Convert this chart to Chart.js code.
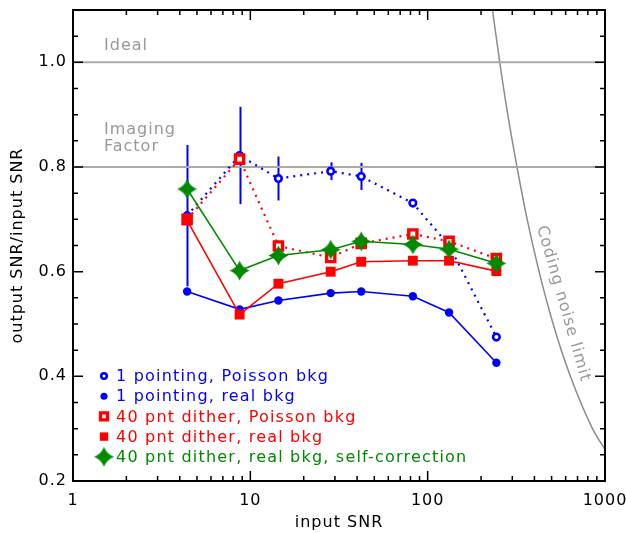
<!DOCTYPE html>
<html lang="en">
<head>
    <meta charset="UTF-8">
    <title>Output SNR vs input SNR</title>
    <script src="https://cdn.jsdelivr.net/npm/chart.js"></script>
    <style>
        body { margin: 0; background: #fff; }
        .snrchart { width: 626px; height: 533px; }
    </style>
</head>
<body>
    <div class="snrchart">
        <canvas id="snrChart" width="626" height="533"></canvas>
    </div>
    <script>
        // input SNR values of the simulations
        var inputSnr = [4.4, 8.7, 14.4, 28.4, 42.2, 82.5, 132, 244];

        // output SNR / input SNR for each case
        var onePointPoisson = [0.707, 0.822, 0.778, 0.792, 0.782, 0.731, 0.650, 0.475];
        var onePointPoissonErr = [0.135, 0.093, 0.042, 0.017, 0.026, 0, 0, 0];
        var onePointReal = [0.562, 0.528, 0.545, 0.559, 0.562, 0.553, 0.522, 0.426];
        var ditherPoisson = [0.700, 0.815, 0.649, 0.627, 0.654, 0.672, 0.658, 0.625];
        var ditherReal = [0.698, 0.518, 0.577, 0.600, 0.619, 0.621, 0.621, 0.601];
        var ditherSelfCorr = [0.758, 0.602, 0.631, 0.642, 0.658, 0.652, 0.643, 0.616];

        // coding noise limit curve
        var codingX = [232, 255, 283, 319, 364, 425, 510, 638, 850, 1000];
        var codingY = [1.10, 1.00, 0.90, 0.80, 0.70, 0.60, 0.50, 0.40, 0.30, 0.26];

        // reference levels
        var idealLevel = 1.0;
        var imagingLevel = 0.8;

        var xTicks = [1, 10, 100, 1000];
        var yTicks = [0.2, 0.4, 0.6, 0.8, 1.0];

        var legendLabels = [
            '1 pointing, Poisson bkg',
            '1 pointing, real bkg',
            '40 pnt dither, Poisson bkg',
            '40 pnt dither, real bkg',
            '40 pnt dither, real bkg, self-correction'
        ];

        var BLUE = '#0000ff', RED = '#ff0000', GREEN = '#008a00', GREY = '#999999';
        var FONT = '"DejaVu Sans", sans-serif';

        function pairs(xs, ys) {
            return xs.map(function (x, i) { return { x: x, y: ys[i] }; });
        }

        // four pointed star marker
        function makeStar(size) {
            var c = document.createElement('canvas');
            c.width = size; c.height = size;
            var g = c.getContext('2d');
            var m = size / 2, r = size / 2 - 0.5, k = size * 0.13;
            g.fillStyle = GREEN;
            g.beginPath();
            g.moveTo(m, m - r);
            g.quadraticCurveTo(m + k, m - k, m + r, m);
            g.quadraticCurveTo(m + k, m + k, m, m + r);
            g.quadraticCurveTo(m - k, m + k, m - r, m);
            g.quadraticCurveTo(m - k, m - k, m, m - r);
            g.fill();
            return c;
        }
        var star = makeStar(21);

        var markerStyles = [
            { pointStyle: 'circle', radius: 3.3, borderWidth: 2.6, fill: '#fff', stroke: BLUE, color: BLUE },
            { pointStyle: 'circle', radius: 4.2, borderWidth: 0, fill: BLUE, stroke: BLUE, color: BLUE },
            { pointStyle: 'rect', radius: 5.8, borderWidth: 3.4, fill: '#fff', stroke: RED, color: RED },
            { pointStyle: 'rect', radius: 7, borderWidth: 0, fill: RED, stroke: RED, color: RED },
            { pointStyle: star, radius: 10, borderWidth: 0, fill: GREEN, stroke: GREEN, color: GREEN }
        ];

        function seriesDataset(values, st, dash, order) {
            return {
                data: pairs(inputSnr, values),
                borderColor: st.color,
                borderWidth: dash ? 2.2 : 1.6,
                borderDash: dash ? [2, 5] : [],
                backgroundColor: st.fill,
                pointStyle: st.pointStyle,
                pointRadius: st.radius,
                pointBorderWidth: st.borderWidth,
                pointBorderColor: st.stroke,
                pointBackgroundColor: st.fill,
                fill: false,
                order: order
            };
        }

        // IDL style frame, inward ticks, error bars and text notes
        var decorPlugin = {
            id: 'decor',
            beforeDraw: function (chart) {
                chart.ctx.letterSpacing = '1px';
            },
            beforeDatasetsDraw: function (chart) {
                var ctx = chart.ctx, xs = chart.scales.x, ys = chart.scales.y;
                ctx.save();
                ctx.strokeStyle = BLUE;
                ctx.lineWidth = 2;
                inputSnr.forEach(function (x, i) {
                    var e = onePointPoissonErr[i];
                    if (!e) return;
                    var px = Math.round(xs.getPixelForValue(x)) + 0.5;
                    ctx.beginPath();
                    ctx.moveTo(px, ys.getPixelForValue(onePointPoisson[i] + e));
                    ctx.lineTo(px, ys.getPixelForValue(onePointPoisson[i] - e));
                    ctx.stroke();
                });
                ctx.restore();
            },
            afterDatasetsDraw: function (chart) {
                var ctx = chart.ctx, a = chart.chartArea;
                var xs = chart.scales.x, ys = chart.scales.y;
                ctx.save();
                ctx.letterSpacing = '1px';

                // text notes
                ctx.fillStyle = GREY;
                ctx.font = '16px ' + FONT;
                ctx.textBaseline = 'middle';
                ctx.textAlign = 'left';
                ctx.fillText('Ideal', 104, 46);
                ctx.fillText('Imaging', 104, 130);
                ctx.fillText('Factor', 104, 147);

                ctx.save();
                ctx.translate(541, 226);
                ctx.rotate(74 * Math.PI / 180);
                ctx.textBaseline = 'middle';
                ctx.fillText('Coding noise limit', 0, 0);
                ctx.restore();

                // frame
                ctx.strokeStyle = '#000';
                ctx.lineWidth = 2;
                ctx.strokeRect(a.left, a.top, a.right - a.left, a.bottom - a.top);

                // ticks
                ctx.lineWidth = 1.5;
                ctx.beginPath();
                for (var d = 1; d < 1000; d *= 10) {
                    for (var m = 1; m < 10; m++) {
                        var v = d * m;
                        if (v <= 1 || v >= 1000) continue;
                        var px = xs.getPixelForValue(v);
                        var len = m === 1 ? 10 : 5;
                        ctx.moveTo(px, a.bottom); ctx.lineTo(px, a.bottom - len);
                        ctx.moveTo(px, a.top); ctx.lineTo(px, a.top + len);
                    }
                }
                for (var j = 5; j < 22; j++) {
                    var yv = j * 0.05;
                    var py = ys.getPixelForValue(yv);
                    var ylen = j % 4 === 0 ? 10 : 5;
                    ctx.moveTo(a.left, py); ctx.lineTo(a.left + ylen, py);
                    ctx.moveTo(a.right, py); ctx.lineTo(a.right - ylen, py);
                }
                ctx.stroke();

                // legend inside plot
                ctx.font = '16px ' + FONT;
                ctx.letterSpacing = '1.2px';
                ctx.textBaseline = 'middle';
                legendLabels.forEach(function (label, i) {
                    var st = markerStyles[i];
                    var y = 376 + i * 20.2;
                    ctx.fillStyle = st.fill;
                    ctx.strokeStyle = st.stroke;
                    ctx.lineWidth = st.borderWidth;
                    var r = st.radius * (i === 4 ? 1 : 0.85);
                    Chart.helpers.drawPoint(ctx, { pointStyle: st.pointStyle, radius: r, rotation: 0, borderWidth: st.borderWidth }, 104, y);
                    ctx.fillStyle = st.color;
                    ctx.fillText(label, 116, y + 1);
                });
                ctx.restore();
            }
        };

        var ctx = document.getElementById('snrChart').getContext('2d');
        var chart = new Chart(ctx, {
            type: 'line',
            data: {
                datasets: [
                    seriesDataset(ditherSelfCorr, markerStyles[4], false, 1),
                    seriesDataset(ditherReal, markerStyles[3], false, 2),
                    seriesDataset(ditherPoisson, markerStyles[2], true, 3),
                    seriesDataset(onePointReal, markerStyles[1], false, 4),
                    seriesDataset(onePointPoisson, markerStyles[0], true, 5),
                    {
                        data: pairs([1, 1000], [idealLevel, idealLevel]),
                        borderColor: '#aaaaaa', borderWidth: 2, pointRadius: 0, order: 6
                    },
                    {
                        data: pairs([1, 1000], [imagingLevel, imagingLevel]),
                        borderColor: '#aaaaaa', borderWidth: 2, pointRadius: 0, order: 6
                    },
                    {
                        data: pairs(codingX, codingY),
                        borderColor: '#8c8c8c', borderWidth: 1.5, pointRadius: 0,
                        cubicInterpolationMode: 'monotone', order: 6
                    }
                ]
            },
            options: {
                responsive: false,
                animation: false,
                layout: { padding: { top: 9, right: 21, left: 0, bottom: 0 } },
                plugins: {
                    legend: { display: false },
                    tooltip: { enabled: false }
                },
                scales: {
                    x: {
                        type: 'logarithmic',
                        min: 1,
                        max: 1000,
                        grid: { display: false, drawTicks: false },
                        border: { display: false },
                        afterBuildTicks: function (s) {
                            s.ticks = xTicks.map(function (v) { return { value: v }; });
                        },
                        afterFit: function (s) {
                            s.height = 52;
                            s.paddingLeft = 0; s.paddingRight = 0;
                        },
                        ticks: {
                            autoSkip: false,
                            maxRotation: 0,
                            padding: 10,
                            color: '#000',
                            font: { family: FONT, size: 16 },
                            callback: function (v) { return String(v); }
                        },
                        title: {
                            display: true,
                            text: 'input SNR',
                            color: '#000',
                            font: { family: FONT, size: 16 },
                            padding: { top: 2, bottom: 1 }
                        }
                    },
                    y: {
                        type: 'linear',
                        min: 0.2,
                        max: 1.1,
                        grid: { display: false, drawTicks: false },
                        border: { display: false },
                        afterBuildTicks: function (s) {
                            s.ticks = yTicks.map(function (v) { return { value: v }; });
                        },
                        afterFit: function (s) {
                            s.width = 73;
                            s.paddingTop = 0; s.paddingBottom = 0;
                        },
                        ticks: {
                            padding: 6,
                            color: '#000',
                            font: { family: FONT, size: 16 },
                            callback: function (v) { return Number(v).toFixed(1); }
                        },
                        title: {
                            display: true,
                            text: 'output SNR/input SNR',
                            color: '#000',
                            font: { family: FONT, size: 16 },
                            padding: { top: 8, bottom: 2 }
                        }
                    }
                }
            },
            plugins: [decorPlugin]
        });
    </script>
</body>
</html>
